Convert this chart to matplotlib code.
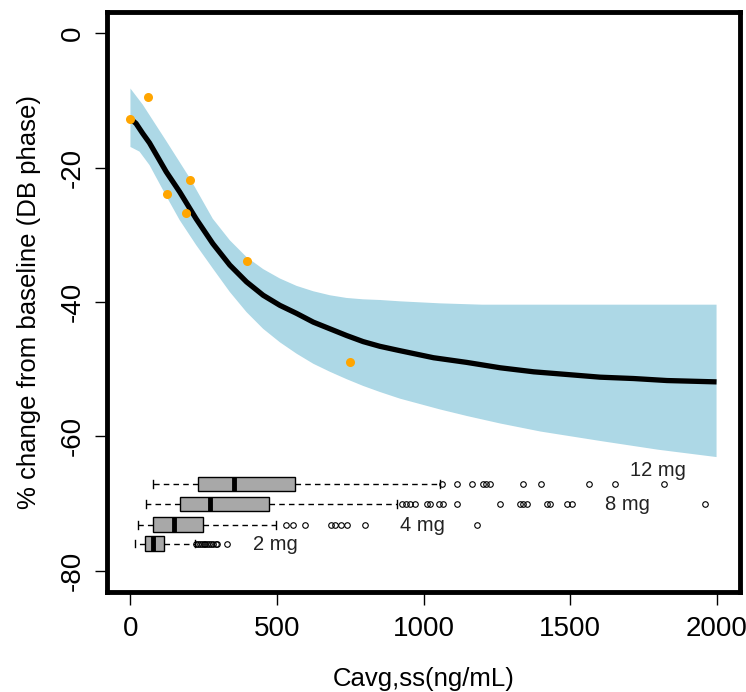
import matplotlib
matplotlib.use("Agg")
import matplotlib.pyplot as plt

plt.rcParams['font.family'] = ['Liberation Sans', 'DejaVu Sans']
plt.rcParams['axes.unicode_minus'] = False

# -----------------------------------------------------------
# data
# -----------------------------------------------------------

# model prediction (median curve)
curve_conc = [0, 19, 42, 65, 122, 168, 224, 281, 339, 396, 453, 510, 567,
              624, 681, 738, 794, 851, 914, 1034, 1148, 1262, 1376, 1490,
              1603, 1717, 1831, 2000]
curve_chg = [-12.7, -13.4, -14.9, -16.3, -20.6, -23.6, -27.6, -31.3, -34.5,
             -37.0, -39.0, -40.5, -41.7, -43.0, -44.0, -45.0, -45.9, -46.6,
             -47.2, -48.3, -49.0, -49.8, -50.4, -50.8, -51.2, -51.4, -51.7,
             -51.9]

# prediction interval
band_up_conc = [0, 42, 122, 202, 281, 339, 396, 453, 510, 567, 624, 681,
                738, 794, 851, 920, 1056, 1200, 1500, 2000]
band_up_chg = [-8.2, -10.6, -16.0, -21.5, -27.6, -30.8, -33.3, -35.1, -36.5,
               -37.6, -38.4, -39.0, -39.4, -39.6, -39.7, -39.9, -40.2, -40.4,
               -40.4, -40.4]
band_lo_conc = [0, 31, 65, 122, 168, 224, 281, 339, 396, 453, 510, 567, 624,
                681, 738, 794, 851, 920, 1056, 1150, 1262, 1400, 1603, 1800,
                2000]
band_lo_chg = [-16.9, -17.6, -19.6, -24.2, -27.8, -31.5, -35.0, -38.5, -41.5,
               -44.0, -46.0, -47.7, -49.2, -50.4, -51.5, -52.5, -53.4, -54.4,
               -56.0, -57.0, -58.1, -59.3, -60.7, -62.0, -63.1]

# observed means
obs_conc = [0, 59, 124, 190, 204, 398, 749]
obs_chg = [-12.7, -9.4, -23.9, -26.7, -21.8, -33.9, -48.9]

# exposure distribution per dose
doses = ['2 mg', '4 mg', '8 mg', '12 mg']
whis_lo = [17, 25, 54, 76]
q1 = [50, 76, 170, 230]
med = [76, 150, 270, 352]
q3 = [116, 247, 473, 563]
whis_hi = [219, 498, 908, 1057]
fliers = [
    [225, 231, 238, 243, 251, 256, 262, 269, 275, 283, 291, 297, 329],
    [532, 555, 595, 686, 697, 720, 738, 800, 1184],
    [925, 940, 954, 971, 1011, 1022, 1054, 1066, 1113, 1262, 1330, 1341,
     1353, 1421, 1430, 1490, 1507, 1959],
    [1063, 1113, 1164, 1202, 1214, 1227, 1341, 1401, 1564, 1652, 1822],
]
box_pos = [-76.0, -73.2, -70.1, -67.1]
label_x = [495, 996, 1697, 1800]
label_y = [-76.1, -73.3, -70.1, -65.1]

# -----------------------------------------------------------
# plot
# -----------------------------------------------------------

W, H = 746, 692
fig = plt.figure(figsize=(W / 100, H / 100), dpi=100)
ax = fig.add_axes([107 / W, 1 - 592 / H, (740 - 107) / W, (592 - 12) / H])

# band polygon: upper edge left->right, lower edge right->left
ax.fill(band_up_conc + band_lo_conc[::-1], band_up_chg + band_lo_chg[::-1],
        color='#ADD8E6', lw=0, zorder=1)
ax.plot(curve_conc, curve_chg, color='black', lw=3.8, zorder=3,
        solid_capstyle='butt', solid_joinstyle='round')
ax.plot(obs_conc, obs_chg, 'o', color='#FFA500', ms=6.5, mec='none',
        zorder=4)

stats = []
for i in range(len(doses)):
    stats.append({'whislo': whis_lo[i], 'q1': q1[i], 'med': med[i],
                  'q3': q3[i], 'whishi': whis_hi[i], 'fliers': fliers[i]})

ax.bxp(stats, positions=box_pos, widths=2.2, orientation='horizontal',
       patch_artist=True, manage_ticks=False, capwidths=1.1,
       boxprops=dict(facecolor='#A8A8A8', edgecolor='black', lw=1),
       whiskerprops=dict(color='black', lw=1, linestyle=(0, (4, 3))),
       capprops=dict(color='black', lw=1),
       medianprops=dict(color='black', lw=3.5, solid_capstyle='butt'),
       flierprops=dict(marker='o', mfc='none', mec='black', ms=4, mew=0.8))

for lab, lx, ly in zip(doses, label_x, label_y):
    ax.text(lx, ly, lab, ha='center', va='center', fontsize=14.5,
            color='#222222', zorder=5)

ax.set_xlim(-80, 2080)
ax.set_ylim(-83.2, 3.2)
ax.set_xticks([0, 500, 1000, 1500, 2000])
ax.set_yticks([0, -20, -40, -60, -80])
ax.tick_params(length=9, width=1, labelsize=20)
ax.tick_params(axis='x', pad=8)
ax.tick_params(axis='y', labelrotation=90, pad=6)
for t in ax.get_yticklabels():
    t.set_va('center')

for s in ax.spines.values():
    s.set_linewidth(3.5)

ax.set_xlabel('Cavg,ss(ng/mL)', fontsize=18.5)
ax.set_ylabel('% change from baseline (DB phase)', fontsize=18.5)
ax.xaxis.set_label_coords(0.5, -0.13)
ax.yaxis.set_label_coords(-0.105, 0.5)

fig.savefig('out.png', dpi=100)
